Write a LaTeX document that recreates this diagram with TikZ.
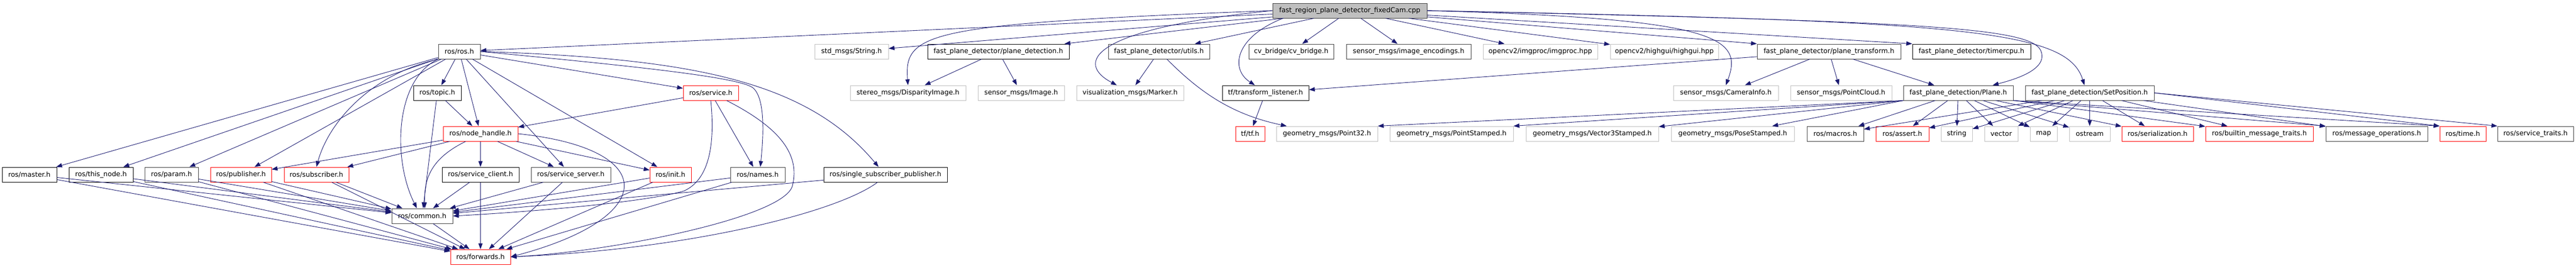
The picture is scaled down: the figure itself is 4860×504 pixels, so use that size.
\documentclass[tikz,border=0pt]{standalone}
\usepackage{fontspec}
\setmainfont{DejaVu Sans}
\usetikzlibrary{arrows.meta}
\definecolor{edgeblue}{HTML}{191970}
\definecolor{extgray}{HTML}{BFBFBF}
\definecolor{linkgray}{HTML}{404040}
\begin{document}
\begin{tikzpicture}[x=1pt,y=1pt,
  incbox/.style={rectangle,draw,line width=1pt,minimum height=28pt,inner sep=0pt,font=\fontsize{12.75}{15}\selectfont},
  hdr/.style={incbox,draw=black},
  hdrlink/.style={incbox,draw=linkgray},
  ext/.style={incbox,draw=extgray},
  trunc/.style={incbox,draw=red},
  rootfile/.style={incbox,draw=linkgray,fill=extgray},
  dep/.style={draw=edgeblue,line width=0.9pt,-{Triangle[length=11pt,width=8pt]}}]
    \useasboundingbox (0,0) rectangle (4860,-504);
    % source file
    \node[rootfile,minimum width=291pt] (root) at (2546.5,-20) {fast\_region\_plane\_detector\_fixedCam.cpp};
    % first level
    \node[hdrlink,minimum width=79pt] (ros) at (866.5,-97) {ros/ros.h};
    \node[ext,minimum width=139pt] (strmsg) at (1606.5,-97) {std\_msgs/String.h};
    \node[hdr,minimum width=267pt] (pdet) at (1883.5,-97) {fast\_plane\_detector/plane\_detection.h};
    \node[hdrlink,minimum width=191pt] (utils) at (2186.5,-97) {fast\_plane\_detector/utils.h};
    \node[hdrlink,minimum width=160pt] (cvb) at (2436,-97) {cv\_bridge/cv\_bridge.h};
    \node[hdrlink,minimum width=235pt] (imgenc) at (2657.5,-97) {sensor\_msgs/image\_encodings.h};
    \node[ext,minimum width=216pt] (imgproc) at (2906,-97) {opencv2/imgproc/imgproc.hpp};
    \node[ext,minimum width=204pt] (highgui) at (3140,-97) {opencv2/highgui/highgui.hpp};
    \node[hdrlink,minimum width=271pt] (ptrans) at (3450.5,-97) {fast\_plane\_detector/plane\_transform.h};
    \node[hdr,minimum width=223pt] (timer) at (3719.5,-97) {fast\_plane\_detector/timercpu.h};
    % second level
    \node[hdr,minimum width=90pt] (topic) at (825,-175) {ros/topic.h};
    \node[trunc,minimum width=104pt] (service) at (1341,-175) {ros/service.h};
    \node[ext,minimum width=218pt] (disp) at (1713,-175) {stereo\_msgs/DisparityImage.h};
    \node[ext,minimum width=163pt] (image) at (1926.5,-175) {sensor\_msgs/Image.h};
    \node[ext,minimum width=202pt] (marker) at (2132,-175) {visualization\_msgs/Marker.h};
    \node[hdr,minimum width=163pt] (tflis) at (2387.5,-175) {tf/transform\_listener.h};
    \node[ext,minimum width=198pt] (caminfo) at (3256,-175) {sensor\_msgs/CameraInfo.h};
    \node[ext,minimum width=191pt] (pcloud) at (3473.5,-175) {sensor\_msgs/PointCloud.h};
    \node[hdrlink,minimum width=207pt] (plane) at (3694.5,-175) {fast\_plane\_detection/Plane.h};
    \node[hdrlink,minimum width=243pt] (setpos) at (3942.5,-175) {fast\_plane\_detection/SetPosition.h};
    % third level
    \node[trunc,minimum width=141pt] (nh) at (906.5,-252) {ros/node\_handle.h};
    \node[trunc,minimum width=55pt] (tf) at (2358.5,-252) {tf/tf.h};
    \node[ext,minimum width=191pt] (pt32) at (2503.5,-252) {geometry\_msgs/Point32.h};
    \node[ext,minimum width=233pt] (ptst) at (2738.5,-252) {geometry\_msgs/PointStamped.h};
    \node[ext,minimum width=250pt] (v3st) at (3004,-252) {geometry\_msgs/Vector3Stamped.h};
    \node[ext,minimum width=232pt] (psst) at (3269,-252) {geometry\_msgs/PoseStamped.h};
    \node[hdrlink,minimum width=107pt] (macros) at (3462.5,-252) {ros/macros.h};
    \node[trunc,minimum width=100pt] (assert) at (3589,-252) {ros/assert.h};
    \node[ext,minimum width=59pt] (string) at (3691.5,-252) {string};
    \node[ext,minimum width=63pt] (vector) at (3775.5,-252) {vector};
    \node[ext,minimum width=51pt] (map) at (3855.5,-252) {map};
    \node[ext,minimum width=77pt] (ostream) at (3942.5,-252) {ostream};
    \node[trunc,minimum width=135pt] (serial) at (4070.5,-252) {ros/serialization.h};
    \node[trunc,minimum width=203pt] (builtin) at (4262.5,-252) {ros/builtin\_message\_traits.h};
    \node[hdrlink,minimum width=192pt] (msgops) at (4484,-252) {ros/message\_operations.h};
    \node[trunc,minimum width=87pt] (time) at (4646.5,-252) {ros/time.h};
    \node[hdrlink,minimum width=143pt] (srvtr) at (4783.5,-252) {ros/service\_traits.h};
    % fourth level
    \node[hdr,minimum width=103pt] (master) at (55.5,-329) {ros/master.h};
    \node[hdr,minimum width=121pt] (thisnode) at (190.5,-329) {ros/this\_node.h};
    \node[hdrlink,minimum width=101pt] (param) at (323.5,-329) {ros/param.h};
    \node[trunc,minimum width=115pt] (pub) at (454.5,-329) {ros/publisher.h};
    \node[trunc,minimum width=122pt] (sub) at (597,-329) {ros/subscriber.h};
    \node[hdr,minimum width=145pt] (sclient) at (906.5,-329) {ros/service\_client.h};
    \node[hdrlink,minimum width=150pt] (sserver) at (1077,-329) {ros/service\_server.h};
    \node[trunc,minimum width=78pt] (init) at (1265,-329) {ros/init.h};
    \node[hdrlink,minimum width=103pt] (names) at (1429.5,-329) {ros/names.h};
    \node[hdr,minimum width=233pt] (ssp) at (1670.5,-329) {ros/single\_subscriber\_publisher.h};
    % bottom
    \node[hdrlink,minimum width=115pt] (common) at (796.5,-407) {ros/common.h};
    \node[trunc,minimum width=113pt] (fwd) at (906.5,-484) {ros/forwards.h};

    % includes of the source file
    \draw[dep] (root) -- (ros);
    \draw[dep] (root) -- (strmsg);
    \draw[dep] (root) -- (pdet);
    \draw[dep] (root.west) .. controls (1750,-45) and (1705,-60) .. (disp.north);
    \draw[dep] (root) -- (utils);
    \draw[dep] (root.west) .. controls (2050,-55) and (2030,-120) .. ([xshift=-25pt]marker.north);
    \draw[dep] (root) -- (cvb);
    \draw[dep] ([xshift=20pt]root.south west) .. controls (2330,-70) and (2320,-130) .. ([xshift=-20pt]tflis.north);
    \draw[dep] (root) -- (imgenc);
    \draw[dep] (root) -- (imgproc);
    \draw[dep] (root) -- (highgui);
    \draw[dep] (root.east) .. controls (3240,-35) and (3290,-70) .. (caminfo.north);
    \draw[dep] (root) -- (ptrans.north west);
    \draw[dep] (root) -- (timer.north west);
    \draw[dep] (root.east) .. controls (3600,-40) and (3830,-50) .. (3850,-95) .. controls (3866,-131) and (3800,-150) .. ([xshift=65pt]plane.north);
    \draw[dep] (root.east) .. controls (3700,-40) and (3900,-55) .. ([xshift=-10pt]setpos.north);

    % ros/ros.h
    \draw[dep] (ros) -- (master);
    \draw[dep] (ros) -- (thisnode);
    \draw[dep] (ros) -- (param);
    \draw[dep] (ros) -- (pub);
    \draw[dep] (ros.south west) .. controls (700,-140) and (620,-230) .. (sub.north);
    \draw[dep] (ros.south west) .. controls (745,-150) and (740,-300) .. ([xshift=-10pt]common.north);
    \draw[dep] (ros) -- (topic);
    \draw[dep] (ros) -- (nh);
    \draw[dep] (ros) -- (sserver);
    \draw[dep] (ros) -- (init);
    \draw[dep] (ros) -- (service);
    \draw[dep] (ros.east) .. controls (1200,-125) and (1390,-145) .. (1420,-165) .. controls (1445,-185) and (1440,-260) .. ([xshift=5pt]names.north);
    \draw[dep] (ros.east) .. controls (1300,-110) and (1520,-150) .. ([xshift=-13pt]ssp.north);
    \draw[dep] (topic) -- (nh);
    \draw[dep] (topic) -- (common);

    % ros/node_handle.h and ros/service.h
    \draw[dep] (nh) -- (pub);
    \draw[dep] (nh) -- (sub);
    \draw[dep] (nh) -- (sclient);
    \draw[dep] (nh) -- (sserver);
    \draw[dep] (nh) -- (init);
    \draw[dep] ([xshift=-28pt]nh.south) .. controls (810,-300) and (800,-340) .. ([xshift=5pt]common.north);
    \draw[dep] (nh.east) .. controls (1245,-280) and (1245,-410) .. (fwd.east);
    \draw[dep] (service) -- (nh);
    \draw[dep] (service) -- (names);
    \draw[dep] (service.south) .. controls (1350,-280) and (1335,-340) .. (1290,-360) .. controls (1200,-385) and (950,-402) .. (common.east);
    \draw[dep] ([xshift=30pt]service.south) .. controls (1470,-240) and (1510,-290) .. (1495,-350) .. controls (1480,-410) and (1150,-475) .. (fwd.east);

    % down to ros/common.h and ros/forwards.h
    \draw[dep] (master) -- (common);
    \draw[dep] (master) -- (fwd);
    \draw[dep] (thisnode) -- (common);
    \draw[dep] (thisnode) -- (fwd);
    \draw[dep] (param) -- (common);
    \draw[dep] (param) -- (fwd);
    \draw[dep] (pub) -- (common);
    \draw[dep] (pub) -- (fwd);
    \draw[dep] (sub) -- (common);
    \draw[dep] (sub) -- (fwd);
    \draw[dep] (sclient) -- (common);
    \draw[dep] (sclient) -- (fwd);
    \draw[dep] (sserver) -- (common);
    \draw[dep] (sserver) -- (fwd);
    \draw[dep] (init) -- (common);
    \draw[dep] (init) -- (fwd);
    \draw[dep] (names) -- (common);
    \draw[dep] (names) -- (fwd);
    \draw[dep] (ssp) -- (common);
    \draw[dep] ([xshift=-15pt]ssp.south) .. controls (1580,-400) and (1300,-470) .. (fwd.east);
    \draw[dep] (common) -- (fwd);

    % fast_plane_detector headers
    \draw[dep] (pdet) -- (disp);
    \draw[dep] (pdet) -- (image);
    \draw[dep] (utils) -- (marker);
    \draw[dep] ([xshift=15pt]utils.south) .. controls (2260,-170) and (2320,-215) .. ([xshift=20pt]pt32.north west);
    \draw[dep] (tflis) -- (tf);
    \draw[dep] (ptrans) -- (tflis);
    \draw[dep] (ptrans) -- (caminfo);
    \draw[dep] (ptrans) -- (pcloud);
    \draw[dep] (ptrans) -- (plane);

    % fast_plane_detection/Plane.h
    \draw[dep] (plane.south west) -- (pt32.north east);
    \draw[dep] (plane.south west) -- (ptst.north east);
    \draw[dep] (plane.south west) -- (v3st);
    \draw[dep] (plane.south west) -- (psst);
    \draw[dep] (plane) -- (macros);
    \draw[dep] (plane) -- (assert);
    \draw[dep] (plane) -- (string);
    \draw[dep] (plane) -- (vector);
    \draw[dep] (plane) -- (map);
    \draw[dep] (plane) -- (ostream);
    \draw[dep] (plane) -- (serial);
    \draw[dep] (plane) -- (builtin);
    \draw[dep] (plane.south east) -- (msgops.north west);
    \draw[dep] (plane.south east) -- (time.north west);

    % fast_plane_detection/SetPosition.h
    \draw[dep] (setpos) -- (macros);
    \draw[dep] (setpos) -- (assert);
    \draw[dep] (setpos) -- (string);
    \draw[dep] (setpos) -- (vector);
    \draw[dep] (setpos) -- (map);
    \draw[dep] (setpos) -- (ostream);
    \draw[dep] (setpos) -- (serial);
    \draw[dep] (setpos) -- (builtin);
    \draw[dep] (setpos) -- (msgops);
    \draw[dep] (setpos.east) -- (time.north west);
    \draw[dep] (setpos.east) -- (srvtr.north west);
\end{tikzpicture}
\end{document}
